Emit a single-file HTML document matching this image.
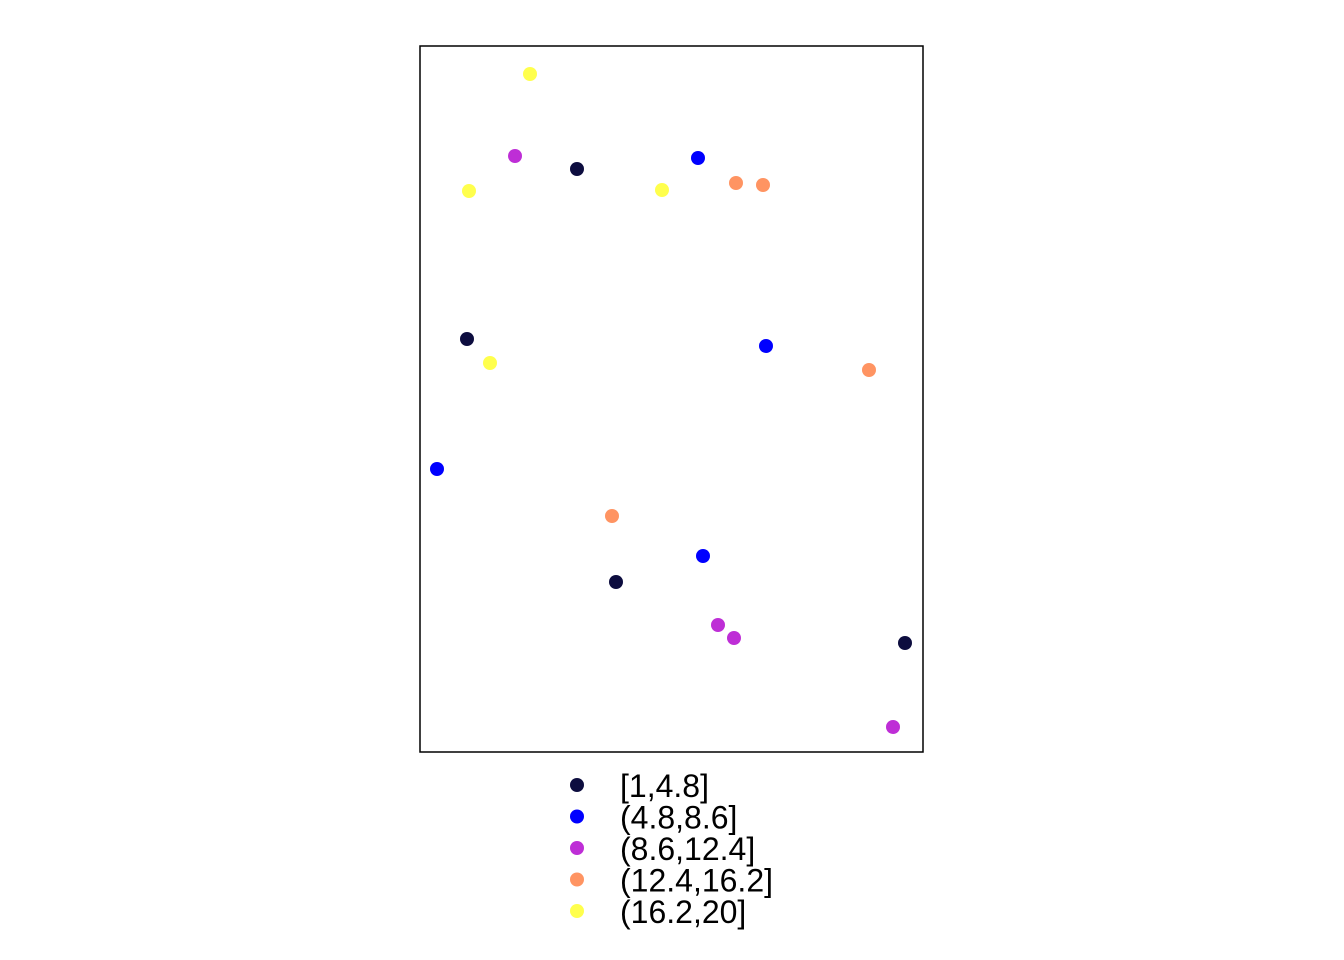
<!DOCTYPE html>
<html><head><meta charset="utf-8"><style>
html,body{margin:0;padding:0;background:#fff;}
svg{display:block;font-family:"Liberation Sans",Arial,sans-serif;}
</style></head><body>
<svg id="chart" width="1344" height="960">
<rect x="420" y="46" width="503" height="706" fill="none" stroke="#000" stroke-width="1.5"/>
<g id="points"></g>
<g id="legend"></g>
</svg>
<script>
const xs = [110,95,157,278,316,343,49,242,47,70,346,449,17,192,283,196,298,314,485,473];
const ys = [679,597,584,595,570,568,562,563,414,390,407,383,284,237,197,171,128,115,110,26];
const cls = [4,2,0,1,3,3,4,4,0,4,1,3,1,3,1,0,2,2,0,2];
const labels = ["[1,4.8]","(4.8,8.6]","(8.6,12.4]","(12.4,16.2]","(16.2,20]"];
const colors = ["#0D0D3F","#0000FF","#BE2ED6","#FF9462","#FFFF4D"];
const NS="http://www.w3.org/2000/svg";
const L=420,T=46,W=503,H=706;
const sx=v=>L+v/503*W, sy=v=>T+H+1-v/706*H;
const g=document.getElementById('points');
xs.forEach((x,i)=>{
  const c=document.createElementNS(NS,'circle');
  c.setAttribute('cx',sx(x));c.setAttribute('cy',sy(ys[i]));c.setAttribute('r',7);
  c.setAttribute('fill',colors[cls[i]]);
  
  
  g.appendChild(c);
});
const lg=document.getElementById('legend');
labels.forEach((t,i)=>{
  const y=785+i*31.5;
  const c=document.createElementNS(NS,'circle');
  c.setAttribute('cx',577);c.setAttribute('cy',y);c.setAttribute('r',7);c.setAttribute('fill',colors[i]);
  
  
  lg.appendChild(c);
  const tx=document.createElementNS(NS,'text');
  tx.setAttribute('x',620);tx.setAttribute('y',y+12);tx.setAttribute('font-size',32);
  tx.textContent=t;
  
  
  lg.appendChild(tx);
});
</script>
</body></html>
